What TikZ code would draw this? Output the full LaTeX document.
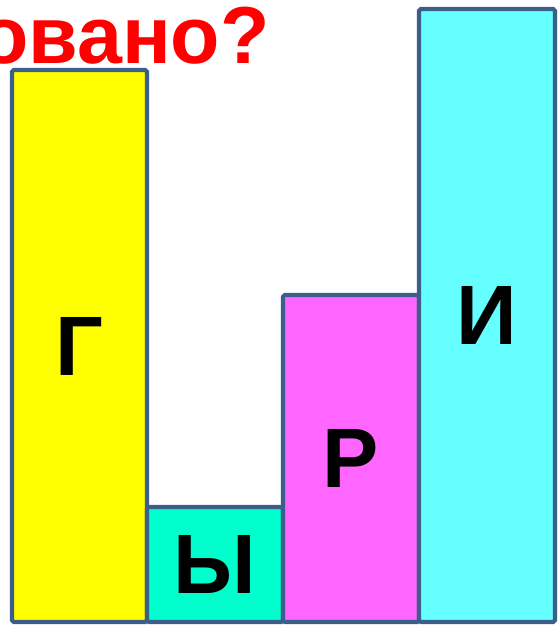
\documentclass[tikz,border=0pt]{standalone}
\usepackage{fontspec}
\setmainfont{Liberation Sans}
\usepackage{xcolor}
\definecolor{edgec}{HTML}{3A5F8B}
\definecolor{gc}{HTML}{FFFF00}
\definecolor{yc}{HTML}{00FFCC}
\definecolor{rc}{HTML}{FF66FF}
\definecolor{ic}{HTML}{66FFFF}
\definecolor{titlec}{HTML}{FF0000}
\tikzset{
  bar/.style={draw=edgec, line width=2.4pt, rounded corners=1pt},
  letter/.style={inner sep=0pt, font=\fontsize{48}{48}\selectfont\bfseries},
  title/.style={inner sep=0pt, text=titlec, font=\fontsize{46}{46}\selectfont\bfseries},
}
\begin{document}
\begin{tikzpicture}[x=0.02cm,y=-0.02cm]
\useasboundingbox (0,0) rectangle (558,627);
\node[title, anchor=base east] (ttl) at (270,63) {овано?};
\draw[bar, fill=gc] (12,622) rectangle (147,70) node[midway, letter] (g) {Г};
\draw[bar, fill=yc] (147,622) rectangle (283,507) node[midway, letter] (y) {Ы};
\draw[bar, fill=rc] (283,622) rectangle (419,295) node[midway, letter] (r) {Р};
\draw[bar, fill=ic] (419,622) rectangle (555,9) node[midway, letter] (i) {И};
\end{tikzpicture}
\end{document}
